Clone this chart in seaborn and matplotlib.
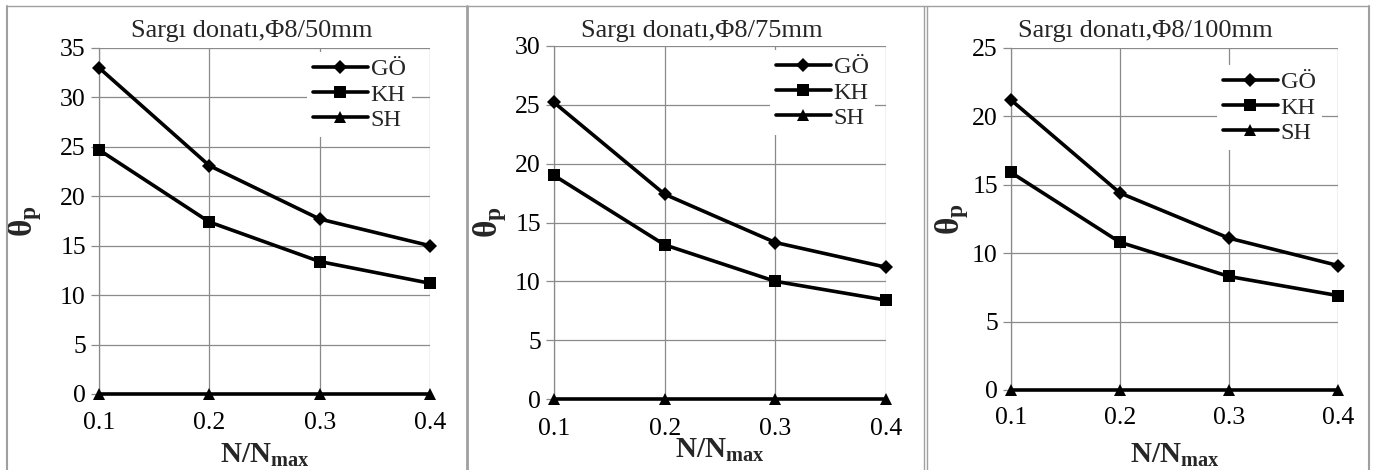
import matplotlib
matplotlib.use("Agg")
import matplotlib.pyplot as plt
import seaborn as sns
import pandas as pd
from matplotlib.lines import Line2D

# ---------------- data ----------------
n_ratio = [0.1, 0.2, 0.3, 0.4]
series_names = ["GÖ", "KH", "SH"]

p1_go = [33.0, 23.1, 17.7, 15.0]
p1_kh = [24.7, 17.4, 13.4, 11.2]
p1_sh = [0.0, 0.0, 0.0, 0.0]

p2_go = [25.2, 17.4, 13.3, 11.2]
p2_kh = [19.0, 13.1, 10.0, 8.4]
p2_sh = [0.0, 0.0, 0.0, 0.0]

p3_go = [21.2, 14.4, 11.1, 9.1]
p3_kh = [15.9, 10.8, 8.3, 6.9]
p3_sh = [0.0, 0.0, 0.0, 0.0]

titles = ["Sargı donatı,Φ8/50mm", "Sargı donatı,Φ8/75mm", "Sargı donatı,Φ8/100mm"]
y_max = [35, 30, 25]
x_ticks = [0.1, 0.2, 0.3, 0.4]
x_tick_labels = ["0.1", "0.2", "0.3", "0.4"]

panels = [
    {"GÖ": p1_go, "KH": p1_kh, "SH": p1_sh},
    {"GÖ": p2_go, "KH": p2_kh, "SH": p2_sh},
    {"GÖ": p3_go, "KH": p3_kh, "SH": p3_sh},
]

# ---------------- style ----------------
sns.set_theme(style="white")
plt.rcParams["font.family"] = ["Liberation Serif", "DejaVu Serif"]
plt.rcParams["mathtext.fontset"] = "custom"
plt.rcParams["mathtext.rm"] = "Liberation Serif"
plt.rcParams["mathtext.it"] = "Liberation Serif:italic"
plt.rcParams["mathtext.bf"] = "Liberation Serif:bold"

W, H = 1376, 470
fig = plt.figure(figsize=(W / 100, H / 100), dpi=100)
fig.patch.set_facecolor("white")

GRID = "#8a8a8a"
LW = 2.6
markers = {"GÖ": ("D", 7), "KH": ("s", 9), "SH": ("^", 9)}

# layout in pixels: left, right, top, bottom of plot area
boxes = [(99, 430, 48, 394), (554, 886, 46, 399), (1011, 1338, 48, 390)]
title_x = [252, 702, 1145]
ylabel_x = [25, 490, 952]
xlabel_y = [455, 450, 455]
ticklabel_pad = [13, 14, 12]
legend_anchor = [(307, 52), (770, 50), (1217, 65)]


def px2fig(x, y):
    return x / W, 1 - y / H


for i, data in enumerate(panels):
    l, r, t, b = boxes[i]
    ax = fig.add_axes([l / W, 1 - b / H, (r - l) / W, (b - t) / H])
    df = pd.DataFrame({"x": n_ratio * 3,
                       "y": data["GÖ"] + data["KH"] + data["SH"],
                       "s": sum([[s] * len(n_ratio) for s in series_names], [])})
    for s in series_names:
        m, ms = markers[s]
        sns.lineplot(data=df[df["s"] == s], x="x", y="y", ax=ax, color="black",
                     linewidth=LW, marker=m, markersize=ms, markeredgewidth=0,
                     label=s, clip_on=False, zorder=5)

    ax.set_xlim(0.1, 0.4)
    ax.set_ylim(0, y_max[i])
    ax.set_xticks(x_ticks)
    ax.set_xticklabels(x_tick_labels)
    ax.set_yticks(list(range(0, y_max[i] + 1, 5)))
    ax.grid(True, color=GRID, linewidth=0.9)
    ax.set_axisbelow(True)
    for side in ["top", "right", "bottom"]:
        ax.spines[side].set_visible(False)
    ax.spines["left"].set_color(GRID)
    ax.spines["left"].set_linewidth(0.9)
    ax.tick_params(axis="y", which="major", direction="out", length=5.5, width=0.9,
                   color=GRID, pad=4, labelsize=18.5, left=True)
    ax.tick_params(axis="x", length=0, pad=ticklabel_pad[i], labelsize=18.5)
    for lab in ax.get_xticklabels() + ax.get_yticklabels():
        lab.set_color("black")

    ax.set_xlabel(r"$\mathbf{N/N_{max}}$", fontsize=21)
    ax.xaxis.set_label_coords(0.5, (b - xlabel_y[i]) / (b - t))
    ax.xaxis.label.set_va("center")
    ax.set_ylabel(r"$\mathbf{θ_{p}}$", fontsize=24)
    ax.yaxis.set_label_coords((ylabel_x[i] - l) / (r - l), 0.5)
    ax.yaxis.label.set_va("center")

    tx, ty = px2fig(title_x[i], 31)
    fig.text(tx, ty, titles[i], ha="center", va="center", fontsize=19)

    if ax.get_legend():
        ax.get_legend().remove()
    handles = [Line2D([], [], color="black", linewidth=LW, marker=markers[s][0],
                      markersize=markers[s][1], markeredgewidth=0) for s in series_names]
    lx, ly = px2fig(*legend_anchor[i])
    leg = ax.legend(handles, series_names, loc="upper left", bbox_to_anchor=(lx, ly),
                    bbox_transform=fig.transFigure, fontsize=17.5, frameon=True,
                    facecolor="white", edgecolor="none", framealpha=1,
                    borderpad=0.25, handlelength=2.25, handletextpad=0.12,
                    labelspacing=0.14, borderaxespad=0)
    leg.set_zorder(4)

# outer frame lines (gray)
frame_color = "#a0a0a0"
x0, y0 = px2fig(7, 6)
x1, _ = px2fig(1369, 6)
fig.add_artist(Line2D([x0, x1], [y0, y0], color=frame_color, linewidth=1.0, transform=fig.transFigure))
for xv, lw in [(7, 1.5), (467, 2.0), (924, 1.0), (927, 1.0), (1369, 1.5)]:
    xf, _ = px2fig(xv, 0)
    fig.add_artist(Line2D([xf, xf], [0, y0], color=frame_color, linewidth=lw, transform=fig.transFigure))

fig.savefig("out.png", dpi=100, facecolor="white")
